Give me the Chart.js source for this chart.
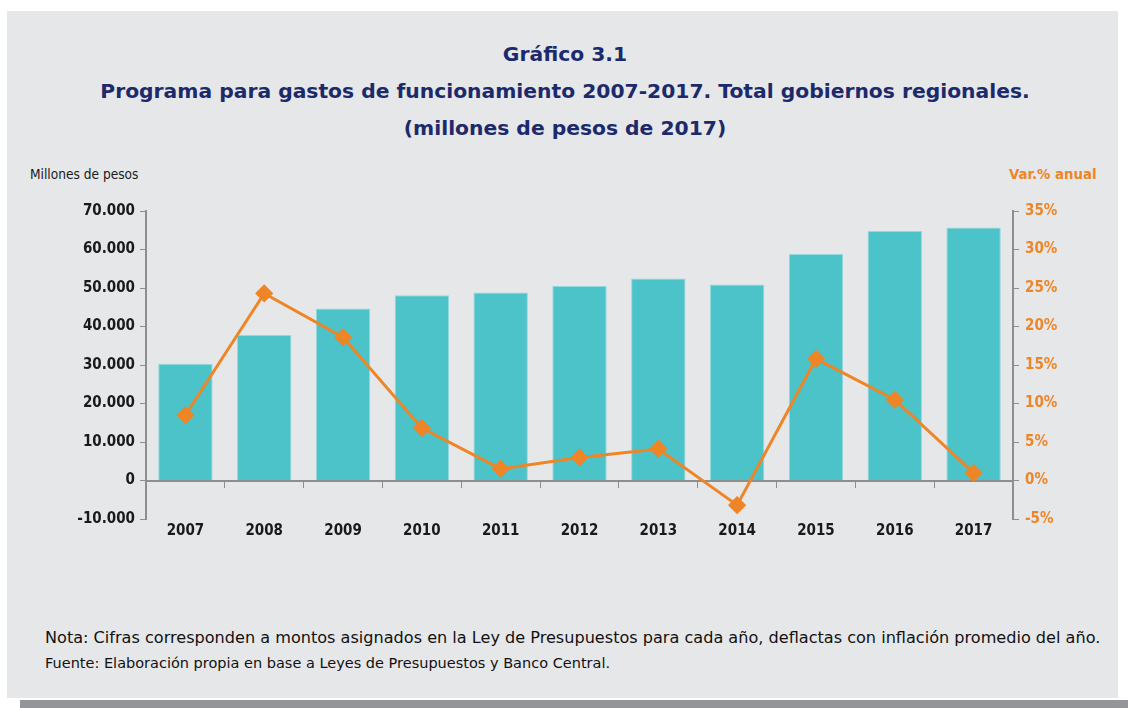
<!DOCTYPE html>
<html>
<head>
<meta charset="utf-8">
<script src="https://cdn.jsdelivr.net/npm/chart.js@4"></script>
<style>
  html, body { margin: 0; padding: 0; background: #ffffff; }
  body { width: 1128px; height: 708px; position: relative; overflow: hidden; }
  .panel { position: absolute; left: 7px; top: 11px; width: 1111px; height: 687px; background: #e6e7e9; }
  .bottombar { position: absolute; left: 20px; top: 700px; width: 1108px; height: 8px; background: #939598; }
  .title { position: absolute; left: 0; top: 36px; width: 1130px; text-align: center;
           font-family: "DejaVu Sans", sans-serif; font-weight: bold; font-size: 20.3px; color: #1c2a6b; line-height: 37px; }
  .ylab { position: absolute; font-family: "Liberation Sans Narrow", "DejaVu Sans Condensed", sans-serif; }
  .ylabL { left: 30px; top: 166px; color: #1a1a1a; font-size: 13.6px; }
  .ylabR { left: 1009px; top: 165px; color: #ee8526; font-weight: bold; font-size: 14.8px; }
  .chartbox { position: absolute; left: 0; top: 190px; width: 1128px; height: 380px; }
  .nota { position: absolute; left: 45px; top: 628px; font-family: "DejaVu Sans", sans-serif; font-size: 16.1px; color: #111; white-space: nowrap; }
  .fuente { position: absolute; left: 45px; top: 655px; font-family: "DejaVu Sans", sans-serif; font-size: 14.5px; color: #111; white-space: nowrap; }
</style>
</head>
<body>
<div class="panel"></div>
<div class="bottombar"></div>
<div class="title">Gráfico 3.1<br>Programa para gastos de funcionamiento 2007-2017. Total gobiernos regionales.<br>(millones de pesos de 2017)</div>
<div class="ylab ylabL">Millones de pesos</div>
<div class="ylab ylabR">Var.% anual</div>
<div class="chartbox"><canvas id="c" width="1128" height="380"></canvas></div>
<div class="nota">Nota: Cifras corresponden a montos asignados en la Ley de Presupuestos para cada año, deflactas con inflación promedio del año.</div>
<div class="fuente">Fuente: Elaboración propia en base a Leyes de Presupuestos y Banco Central.</div>
<script>
const years = ["2007","2008","2009","2010","2011","2012","2013","2014","2015","2016","2017"];
const gasto = [30300, 37800, 44700, 48100, 48800, 50500, 52500, 50900, 58800, 64800, 65700];
const variacion = [8.5, 24.3, 18.6, 6.8, 1.5, 3.0, 4.1, -3.2, 15.8, 10.5, 1.0];
const leftTicks = { min: -10000, max: 70000, step: 10000 };
const rightTicks = { min: -5, max: 35, step: 5 };

const tickFont = { family: "'Liberation Sans Narrow', 'DejaVu Sans Condensed', sans-serif", size: 15, weight: 'bold' };
const axisGray = '#8e8e8e';
const orange = '#ee8526';

function fmtMiles(v) {
  const s = Math.abs(v).toFixed(0).replace(/\B(?=(\d{3})+(?!\d))/g, '.');
  return (v < 0 ? '-' : '') + s;
}

new Chart(document.getElementById('c'), {
  type: 'bar',
  data: {
    labels: years,
    datasets: [
      {
        type: 'line', label: 'Var.% anual', data: variacion, yAxisID: 'y1', xAxisID: 'x',
        borderColor: orange, backgroundColor: orange, borderWidth: 3,
        pointStyle: 'rectRot', pointRadius: 7, pointBackgroundColor: orange, pointBorderColor: orange,
        tension: 0, order: 0
      },
      {
        type: 'bar', label: 'Millones de pesos', data: gasto, yAxisID: 'y', xAxisID: 'x',
        backgroundColor: '#4bc3c9', borderColor: '#93d8dc', borderWidth: 1,
        categoryPercentage: 0.69, barPercentage: 1.0, order: 1
      }
    ]
  },
  options: {
    responsive: false,
    animation: false,
    devicePixelRatio: 1,
    layout: { padding: { top: 21, left: 0, right: 0, bottom: 0 } },
    plugins: { legend: { display: false }, tooltip: { enabled: false }, title: { display: false } },
    scales: {
      x: {
        type: 'category', position: 'bottom', offset: true,
        grid: { display: false }, border: { display: false },
        ticks: { font: tickFont, color: '#1a1a1a', padding: -5, maxRotation: 0 },
        afterFit: (s) => { s.height = 51; }
      },
      x2: {
        type: 'category', labels: years, position: { y: 0 }, offset: true,
        grid: { offset: true, drawOnChartArea: false, drawTicks: true, tickLength: 6, color: axisGray, lineWidth: 1 },
        border: { color: axisGray, width: 2 },
        ticks: { display: false }
      },
      y: {
        type: 'linear', position: 'left', min: leftTicks.min, max: leftTicks.max,
        grid: { drawOnChartArea: false, tickLength: 6, color: axisGray },
        border: { color: axisGray, width: 2 },
        ticks: { stepSize: leftTicks.step, font: tickFont, color: '#1a1a1a', padding: 5, callback: (v) => fmtMiles(v) },
        afterFit: (s) => { s.width = 146; }
      },
      y1: {
        type: 'linear', position: 'right', min: rightTicks.min, max: rightTicks.max,
        grid: { drawOnChartArea: false, tickLength: 6, color: axisGray },
        border: { color: axisGray, width: 2 },
        ticks: { stepSize: rightTicks.step, font: tickFont, color: orange, padding: 6, callback: (v) => v + '%' },
        afterFit: (s) => { s.width = 115; }
      }
    }
  }
});
</script>
</body>
</html>
